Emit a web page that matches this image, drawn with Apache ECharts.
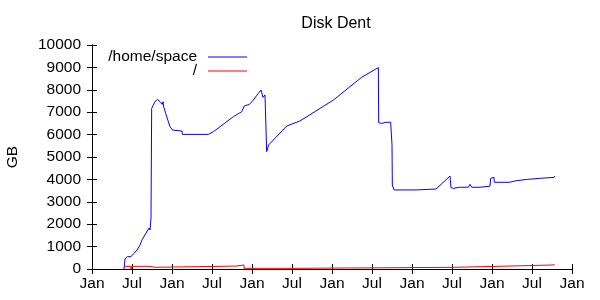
<!DOCTYPE html>
<html>
<head>
<meta charset="utf-8">
<script src="https://cdn.jsdelivr.net/npm/echarts@6/dist/echarts.min.js"></script>
<style>html,body{margin:0;padding:0;background:#fff}#c{width:600px;height:300px}</style>
</head>
<body>
<div id="c"></div>
<script>
// x values are months since the first "Jan" tick on the axis
var title = 'Disk Dent';
var yName = 'GB';
var xTickLabels = ['Jan', 'Jul'];
var seriesNames = ['/home/space', '/'];

var homeSpace = [
  [4.8, 0], [4.95, 450], [5.25, 450], [5.3, 550], [5.85, 550], [6.3, 700], [6.75, 850],
  [7.2, 1070], [7.5, 1300], [8.1, 1600], [8.55, 1830], [8.7, 1740], [8.85, 2270],
  [8.95, 7170], [9.2, 7320], [9.45, 7470], [9.8, 7570], [10.2, 7470], [10.55, 7350],
  [10.65, 7470], [10.75, 7250], [11.05, 6950], [11.45, 6580], [11.7, 6350], [12.1, 6200],
  [12.2, 6160], [13.5, 6160], [13.55, 6010], [15.9, 6010], [16.0, 6080], [16.05, 6010],
  [17.45, 6010], [18.2, 6130], [19.2, 6350], [21.2, 6800], [22.45, 7020], [22.85, 7280],
  [23.6, 7350], [24.2, 7540], [24.95, 7840], [25.35, 7990], [25.55, 7990], [25.65, 7660],
  [25.95, 7770], [26.1, 7840], [26.2, 5240], [26.5, 5540], [29.2, 6380], [29.95, 6470],
  [31.2, 6610], [36.2, 7540], [40.45, 8560], [42.95, 8990], [43.0, 6530], [43.45, 6500],
  [44.1, 6550], [44.8, 6550], [45.0, 5540], [45.05, 3750], [45.3, 3530], [48.6, 3530],
  [48.7, 3570], [51.6, 3570], [53.7, 4150], [53.85, 3630], [54.2, 3600], [55.1, 3650],
  [56.45, 3650], [56.7, 3780], [56.95, 3650], [58.2, 3650], [58.3, 3700], [59.7, 3700],
  [59.8, 4050], [60.05, 4120], [60.3, 4090], [60.35, 3870], [62.6, 3870], [62.8, 3940],
  [63.6, 3940], [63.7, 4000], [65.3, 4000], [65.45, 4050], [67.3, 4050], [67.45, 4090],
  [69.3, 4090], [69.45, 4150]
];

// step changes: each value holds from its x until the next x
var root = [
  [4.8, 120], [5.85, 0], [5.95, 120], [8.55, 75], [9.45, 130], [21.6, 180],
  [22.8, 30], [30.6, 75], [54.3, 130], [62.4, 180], [69.3, 220], [69.35, 220]
];

// expand step changes into corner points
function toSteps(arr) {
  var out = [];
  for (var i = 0; i < arr.length; i++) {
    if (i > 0) out.push([arr[i][0], arr[i - 1][1]]);
    out.push(arr[i]);
  }
  return out;
}

var font = 'Liberation Sans';
var fs = 15.5;
var axisCommon = {
  type: 'value',
  axisLine: { show: true, lineStyle: { color: '#000', width: 1 } },
  axisTick: { show: true, inside: true, length: 5, lineStyle: { color: '#000' } },
  splitLine: { show: false }
};

var chart = echarts.init(document.getElementById('c'), null, { renderer: 'canvas' });
chart.setOption({
  animation: false,
  backgroundColor: '#fff',
  title: {
    text: title, left: 331, top: 11, textAlign: 'center',
    textStyle: { fontFamily: font, fontSize: 16, fontWeight: 'normal', color: '#000' }
  },
  legend: [{
    data: [seriesNames[0]], orient: 'vertical', align: 'right', right: 348, top: 44,
    itemWidth: 39, itemHeight: 1, icon: 'rect',
    textStyle: { fontFamily: font, fontSize: fs, color: '#000', padding: [0, 6, 0, 0] }
  }, {
    data: [seriesNames[1]], orient: 'vertical', align: 'right', right: 348, top: 58,
    itemWidth: 39, itemHeight: 1, icon: 'rect',
    textStyle: { fontFamily: font, fontSize: fs, color: '#000', padding: [0, 6, 0, 0] }
  }],
  grid: { left: 92, right: 28, top: 45, bottom: 31, containLabel: false, outerBoundsMode: 'none' },
  xAxis: [
    Object.assign({}, axisCommon, {
      position: 'bottom', min: 0, max: 72, interval: 6,
      axisLabel: {
        margin: 7, fontFamily: font, fontSize: fs, color: '#000',
        formatter: function (v) { return xTickLabels[Math.round(v / 6) % 2]; }
      }
    }),
    Object.assign({}, axisCommon, {
      position: 'top', min: 0, max: 72, interval: 6, axisLabel: { show: false }
    })
  ],
  yAxis: [
    Object.assign({}, axisCommon, {
      position: 'left', min: 0, max: 10000, interval: 1000,
      name: yName, nameLocation: 'middle', nameGap: 71, nameRotate: 90,
      nameTextStyle: { fontFamily: font, fontSize: fs, color: '#000' },
      axisLabel: { margin: 11, fontFamily: font, fontSize: fs, color: '#000',
        formatter: function (v) { return String(v); } }
    }),
    Object.assign({}, axisCommon, {
      position: 'right', min: 0, max: 10000, interval: 1000, axisLabel: { show: false }
    })
  ],
  series: [{
    name: seriesNames[0], type: 'line', data: homeSpace, showSymbol: false,
    color: '#0000ff', lineStyle: { color: '#0000ff', width: 1 }
  }, {
    name: seriesNames[1], type: 'line', data: toSteps(root), showSymbol: false,
    color: '#ff0000', lineStyle: { color: '#ff0000', width: 1 }
  }]
});
</script>
</body>
</html>
